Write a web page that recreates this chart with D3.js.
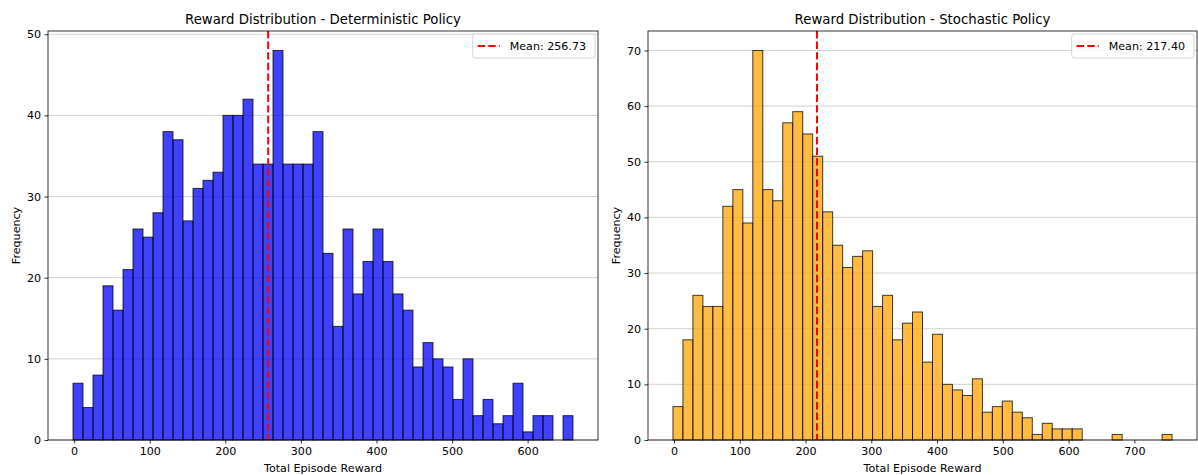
<!DOCTYPE html>
<html>
<head>
<meta charset="utf-8">
<script src="https://cdn.jsdelivr.net/npm/d3@7"></script>
<style>
  html, body { margin: 0; padding: 0; background: #fff; }
  svg { display: block; font-family: "DejaVu Sans", sans-serif; }
</style>
</head>
<body>
<svg id="chart" width="1198" height="475"></svg>
<script>
// Episode reward histograms (50 bins each)
const detCounts = [7,4,8,19,16,21,26,25,28,38,37,27,31,32,33,40,40,42,34,34,
                   48,34,34,34,38,23,14,26,18,22,26,22,18,16,9,12,10,9,5,10,
                   3,5,2,3,7,1,3,3,0,3];
const stoCounts = [6,18,26,24,24,42,45,39,70,45,43,57,59,55,51,41,35,31,33,34,
                   24,26,18,21,23,14,19,10,9,8,11,5,6,7,5,4,1,3,2,2,
                   2,0,0,0,1,0,0,0,0,1];
const detRange = [-1.5, 660];
const stoRange = [-1.6, 757.3];
const detMean = 256.73;
const stoMean = 217.40;
const detXTicks = [0,100,200,300,400,500,600];
const stoXTicks = [0,100,200,300,400,500,600,700];
const detYTicks = [0,10,20,30,40,50];
const stoYTicks = [0,10,20,30,40,50,60,70];
const titles = ["Reward Distribution - Deterministic Policy", "Reward Distribution - Stochastic Policy"];

const svg = d3.select("#chart");
const FS = 11.1, TFS = 13.3;

function panel(opts) {
  const {left, right, top, bottom, counts, range, mean, xTicks, yTicks, fill, title} = opts;
  const g = svg.append("g");
  const n = counts.length;
  const step = (range[1] - range[0]) / n;
  const bins = counts.map((c, i) => ({c, x0: range[0] + i * step, x1: range[0] + (i + 1) * step}))
    .filter(b => b.c > 0);
  const pad = (range[1] - range[0]) * 0.05;
  const x = d3.scaleLinear().domain([range[0] - pad, range[1] + pad]).range([left, right]);
  const yMax = d3.max(counts) * 1.05;
  const y = d3.scaleLinear().domain([0, yMax]).range([bottom, top]);

  // horizontal grid
  g.append("g").selectAll("line").data(yTicks).join("line")
    .attr("x1", left).attr("x2", right)
    .attr("y1", d => y(d)).attr("y2", d => y(d))
    .attr("stroke", "#b0b0b0").attr("stroke-opacity", 0.7).attr("stroke-width", 0.8);

  // bars
  g.append("g").selectAll("rect").data(bins).join("rect")
    .attr("x", b => x(b.x0))
    .attr("width", b => x(b.x1) - x(b.x0))
    .attr("y", b => y(b.c))
    .attr("height", b => y(0) - y(b.c))
    .attr("fill", fill).attr("fill-opacity", 0.75)
    .attr("stroke", "#000").attr("stroke-opacity", 0.75).attr("stroke-width", 1);

  // mean line
  g.append("line")
    .attr("x1", x(mean)).attr("x2", x(mean))
    .attr("y1", top).attr("y2", bottom)
    .attr("stroke", "red").attr("stroke-width", 2)
    .attr("stroke-dasharray", "7.4,3.2");

  // axes
  const xAxis = d3.axisBottom(x).tickValues(xTicks).tickSize(3.5).tickPadding(3.5).tickFormat(d3.format("d"));
  const yAxis = d3.axisLeft(y).tickValues(yTicks).tickSize(3.5).tickPadding(3.5).tickFormat(d3.format("d"));
  const gx = g.append("g").attr("transform", `translate(0,${bottom})`).call(xAxis);
  const gy = g.append("g").attr("transform", `translate(${left},0)`).call(yAxis);
  [gx, gy].forEach(a => {
    a.select(".domain").remove();
    a.selectAll("line").attr("stroke", "#000").attr("stroke-width", 0.8);
    a.selectAll("text").attr("font-size", FS).attr("fill", "#000")
      .attr("font-family", "DejaVu Sans, sans-serif");
  });

  // frame
  g.append("rect").attr("x", left).attr("y", top)
    .attr("width", right - left).attr("height", bottom - top)
    .attr("fill", "none").attr("stroke", "#000").attr("stroke-width", 0.8);

  // title and labels
  const cx = (left + right) / 2;
  g.append("text").attr("x", cx).attr("y", top - 7).attr("text-anchor", "middle")
    .attr("font-size", TFS).text(title);
  g.append("text").attr("x", cx).attr("y", bottom + 32).attr("text-anchor", "middle")
    .attr("font-size", FS).text("Total Episode Reward");
  g.append("text").attr("transform", `translate(${left - 28},${(top + bottom) / 2}) rotate(-90)`)
    .attr("text-anchor", "middle").attr("font-size", FS).text("Frequency");

  // legend
  const label = "Mean: " + mean.toFixed(2);
  const lg = g.append("g");
  const txt = lg.append("text").attr("font-size", FS).text(label);
  const tw = txt.node().getComputedTextLength();
  const boxW = tw + 46, boxH = 24;
  const bx = right - 3 - boxW, by = top + 3;
  lg.insert("rect", "text").attr("x", bx).attr("y", by).attr("width", boxW).attr("height", boxH)
    .attr("rx", 2.5).attr("fill", "#fff").attr("fill-opacity", 0.8)
    .attr("stroke", "#cccccc").attr("stroke-width", 0.8);
  lg.append("line").attr("x1", bx + 5).attr("x2", bx + 27)
    .attr("y1", by + boxH / 2).attr("y2", by + boxH / 2)
    .attr("stroke", "red").attr("stroke-width", 2).attr("stroke-dasharray", "7.4,3.2");
  txt.attr("x", bx + 37).attr("y", by + boxH / 2 + 4);
}

panel({left: 48, right: 598, top: 31, bottom: 440, counts: detCounts, range: detRange,
       mean: detMean, xTicks: detXTicks, yTicks: detYTicks, fill: "blue", title: titles[0]});
panel({left: 648, right: 1197, top: 31, bottom: 440, counts: stoCounts, range: stoRange,
       mean: stoMean, xTicks: stoXTicks, yTicks: stoYTicks, fill: "orange", title: titles[1]});
</script>
</body>
</html>
